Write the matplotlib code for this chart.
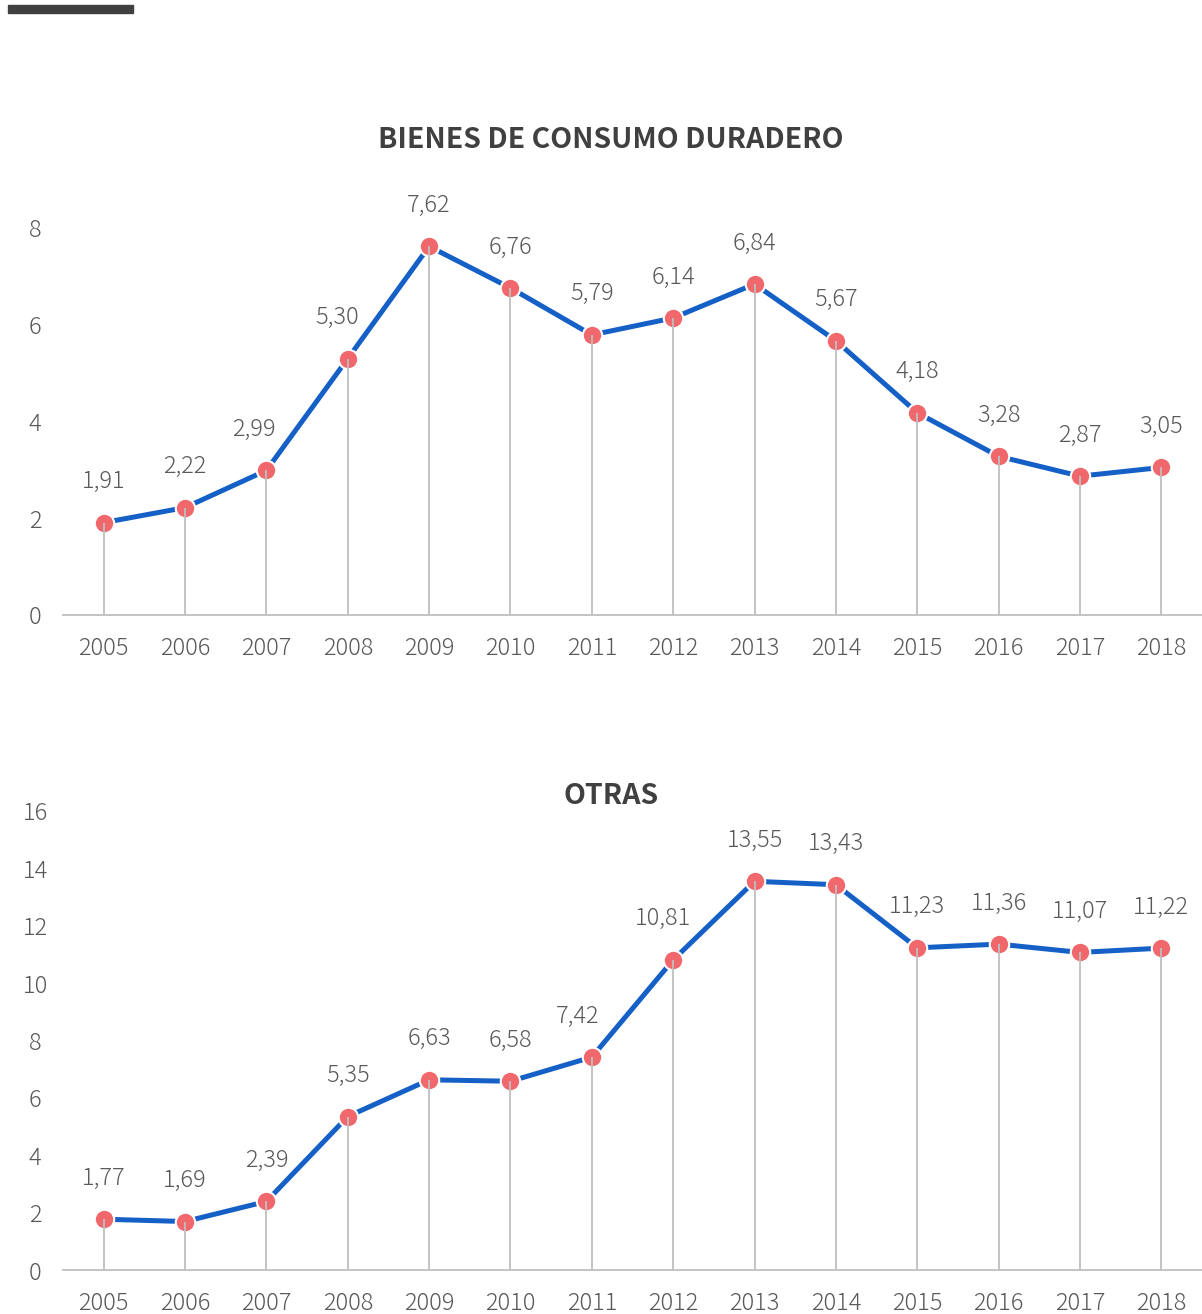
import matplotlib
matplotlib.use("Agg")
from matplotlib import pyplot as plt
from matplotlib.patches import Rectangle

plt.rcParams['font.family'] = ['Noto Sans CJK JP', 'DejaVu Sans']

years = [str(y) for y in range(2005, 2019)]
bienes = [1.91, 2.22, 2.99, 5.30, 7.62, 6.76, 5.79, 6.14, 6.84, 5.67, 4.18, 3.28, 2.87, 3.05]
otras = [1.77, 1.69, 2.39, 5.35, 6.63, 6.58, 7.42, 10.81, 13.55, 13.43, 11.23, 11.36, 11.07, 11.22]

# small horizontal nudges (in category units) for labels that sit on the rising line
nudge_bienes = [0, 0, -0.15, -0.13, 0, 0, 0, 0, 0, 0, 0, 0, 0, 0]
nudge_otras = [0, 0, 0, 0, 0, 0, -0.17, -0.13, 0, 0, 0, 0, 0, 0]

LINE = '#1560C6'
MARK = '#F0686C'
GREY = '#BFBFBF'
TXT = '#595959'

W, H = 1202, 1314
fig = plt.figure(figsize=(W / 100, H / 100), dpi=100)

# dark bar in top-left corner
fig.patches.append(Rectangle((8 / W, 1 - 13 / H), 125 / W, 8 / H,
                             transform=fig.transFigure, color='#404040'))


def panel(box, vals, ymax, title, title_y, nudge):
    ax = fig.add_axes(box)
    x = list(range(len(vals)))
    ax.plot(x, vals, color=LINE, lw=3.6, zorder=2, solid_capstyle='butt')
    ax.plot(x, vals, 'o', ms=14, mfc=MARK, mec='white', mew=1.5, zorder=3)
    ax.vlines(x, 0, vals, color=GREY, lw=1.3, zorder=4)
    for i, v in enumerate(vals):
        ax.annotate(f"{v:.2f}".replace('.', ','), (i + nudge[i], v),
                    xytext=(0, 29.5), textcoords='offset points',
                    ha='center', va='center', fontsize=17, fontweight='light',
                    color=TXT)
    ax.set_xlim(-0.5, len(vals) - 0.5)
    ax.set_ylim(0, ymax)
    ax.set_yticks(range(0, ymax + 1, 2))
    ax.set_xticks(x)
    ax.set_xticklabels(years)
    for s in ['top', 'right', 'left']:
        ax.spines[s].set_visible(False)
    ax.spines['bottom'].set_color(GREY)
    ax.spines['bottom'].set_linewidth(1.3)
    ax.tick_params(axis='both', length=0, labelsize=17, colors=TXT)
    ax.tick_params(axis='x', pad=15)
    ax.tick_params(axis='y', pad=20)
    for lab in ax.get_xticklabels() + ax.get_yticklabels():
        lab.set_fontweight('light')
    for lab in ax.get_yticklabels():
        lab.set_horizontalalignment('center')
    fig.text(611 / W, 1 - title_y / H, title, ha='center', va='center',
             fontsize=20.5, fontweight='bold', color='#404040')
    return ax


panel([63 / W, 1 - 615 / H, 1 - 63 / W, 387 / H], bienes, 8,
      'BIENES DE CONSUMO DURADERO', 140, nudge_bienes)
panel([63 / W, 1 - 1270 / H, 1 - 63 / W, 459 / H], otras, 16,
      'OTRAS', 796, nudge_otras)

fig.savefig('out.png', dpi=100, facecolor='white')
